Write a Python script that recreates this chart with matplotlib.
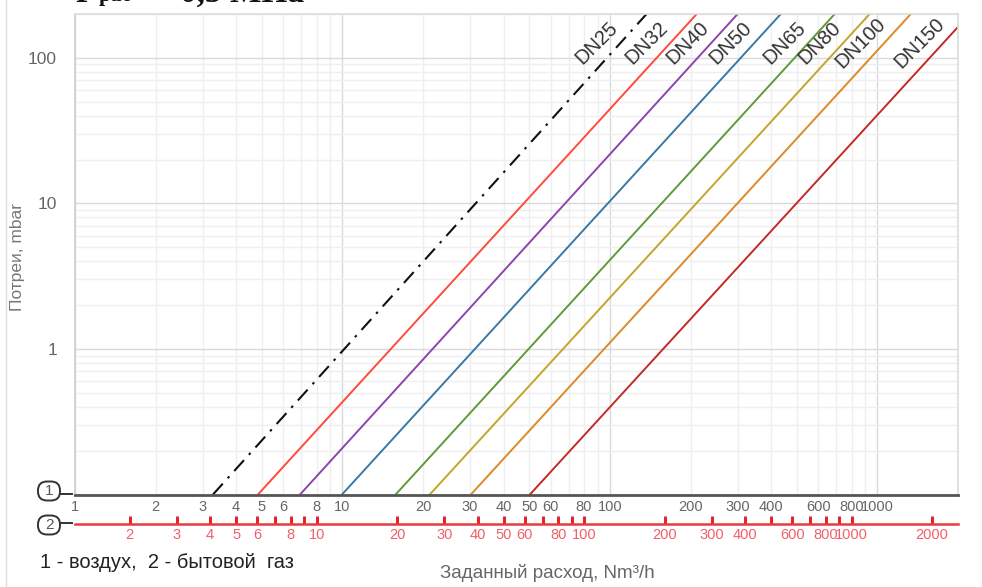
import numpy as np
import matplotlib
matplotlib.use("Agg")
import matplotlib.pyplot as plt
from matplotlib.ticker import FixedLocator, NullFormatter, FuncFormatter, NullLocator
from matplotlib.lines import Line2D
from matplotlib.patches import FancyBboxPatch
from matplotlib.transforms import IdentityTransform

# ---------------- data ----------------
dn_names = ["DN25", "DN32", "DN40", "DN50", "DN65", "DN80", "DN100", "DN150"]
q_start = [3.28, 4.83, 6.94, 9.96, 15.8, 21.2, 30.2, 50.2]      # Nm3/h (air) at start
dp_start = [0.1, 0.1, 0.1, 0.1, 0.1, 0.1, 0.1, 0.1]               # mbar
q_end = [137, 211, 300, 435, 692, 935, 1332, 2000]                # Nm3/h (air) at end
dp_end = [200, 200, 200, 200, 200, 200, 200, 163]                 # mbar
line_colors = ["#111111", "#ff4a3d", "#8e44ad", "#3a78a6",
               "#5f9a3a", "#c4a52a", "#dc8a28", "#c42a25"]

air_labels = [1, 2, 3, 4, 5, 6, 8, 10, 20, 30, 40, 50, 60, 80, 100,
              200, 300, 400, 600, 800, 1000]
gas_ticks = [2, 3, 4, 5, 6, 7, 8, 9, 10, 20, 30, 40, 50, 60, 70, 80, 90, 100,
             200, 300, 400, 500, 600, 700, 800, 900, 1000, 2000]
gas_labels = [2, 3, 4, 5, 6, 8, 10, 20, 30, 40, 50, 60, 80, 100,
              200, 300, 400, 600, 800, 1000, 2000]
gas_factor = 1.25          # gas flow = air flow * factor
y_ticks = [1, 10, 100]
x_lim = (1, 2000)
y_lim = (0.1, 200)
label_dp = 127             # pressure level where DN labels sit

# ---------------- figure ----------------
W, H = 982, 587
plt.rcParams['font.family'] = ['Liberation Sans', 'DejaVu Sans']
fig = plt.figure(figsize=(W / 100, H / 100), dpi=100)

def fx(px):
    return px / W

def fy(py):
    return 1 - py / H

L, R, T, B = 75, 958, 14, 494.5
ax = fig.add_axes([fx(L), fy(B), fx(R) - fx(L), fy(T) - fy(B)])
ax.set_xscale('log')
ax.set_yscale('log')
ax.set_xlim(*x_lim)
ax.set_ylim(*y_lim)

# grid
ax.xaxis.set_major_locator(FixedLocator([1, 10, 100, 1000]))
ax.xaxis.set_minor_locator(FixedLocator([m * d for d in (1, 10, 100, 1000) for m in range(2, 10)]))
ax.yaxis.set_major_locator(FixedLocator(y_ticks))
ax.yaxis.set_minor_locator(FixedLocator([m * d for d in (0.1, 1, 10, 100) for m in range(2, 10)]))
ax.xaxis.set_major_formatter(NullFormatter())
ax.xaxis.set_minor_formatter(NullFormatter())
ax.yaxis.set_minor_formatter(NullFormatter())
ax.yaxis.set_major_formatter(FuncFormatter(lambda v, p: f"{v:g}"))
ax.grid(which='minor', color='#efefef', lw=1.0)
ax.grid(which='major', color='#dadada', lw=1.0)
ax.set_axisbelow(True)
ax.tick_params(axis='both', which='both', length=0)
ax.tick_params(axis='y', which='major', labelsize=12.5, labelcolor='#666666', pad=13)
for s in ('left', 'top', 'right'):
    ax.spines[s].set_color('#dcdcdc')
    ax.spines[s].set_linewidth(1.2)
ax.spines['left'].set_color('#cfcfcf')
ax.spines['bottom'].set_color('#555555')
ax.spines['bottom'].set_linewidth(2.0)

# lines
for i, name in enumerate(dn_names):
    xs = [q_start[i], q_end[i]]
    ys = [dp_start[i], dp_end[i]]
    if i == 0:
        ax.plot(xs, ys, color=line_colors[i], lw=1.5, ls=(0, (7, 3.5, 1.2, 3.5)),
                solid_capstyle='butt', clip_on=True)
    else:
        ax.plot(xs, ys, color=line_colors[i], lw=1.4, clip_on=True)
    lx = np.log10(xs)
    ly = np.log10(ys)
    qx = 10 ** np.interp(np.log10(label_dp), ly, lx)
    ax.annotate(name, xy=(qx, label_dp), xytext=(-24, 0), textcoords='offset pixels',
                rotation=45, rotation_mode='anchor', ha='center', va='center',
                fontsize=14.5, color='#333333', annotation_clip=False)

# air scale (1)
ax_air = fig.add_axes([fx(L), fy(B), fx(R) - fx(L), 0.0001])
ax_air.set_xscale('log')
ax_air.set_xlim(*x_lim)
ax_air.set_facecolor('none')
for s in ax_air.spines.values():
    s.set_visible(False)
ax_air.yaxis.set_major_locator(NullLocator())
ax_air.xaxis.set_major_locator(FixedLocator(air_labels))
ax_air.xaxis.set_minor_locator(NullLocator())
ax_air.xaxis.set_major_formatter(FuncFormatter(lambda v, p: f"{v:g}"))
ax_air.tick_params(axis='x', length=0, pad=4, labelsize=10.5, labelcolor='#666666')

# gas scale (2)
GY = 524
ax_gas = fig.add_axes([fx(L), fy(GY), fx(R) - fx(L), 0.0001])
ax_gas.set_xscale('log')
ax_gas.set_xlim(x_lim[0] * gas_factor, x_lim[1] * gas_factor)
ax_gas.set_facecolor('none')
for s in ('left', 'right', 'top'):
    ax_gas.spines[s].set_visible(False)
ax_gas.spines['bottom'].set_color('#ea3a40')
ax_gas.spines['bottom'].set_linewidth(1.8)
ax_gas.yaxis.set_major_locator(NullLocator())
ax_gas.xaxis.set_major_locator(FixedLocator(gas_ticks))
ax_gas.xaxis.set_minor_locator(NullLocator())
ax_gas.xaxis.set_major_formatter(FuncFormatter(lambda v, p: f"{v:g}" if v in gas_labels else ""))
ax_gas.tick_params(axis='x', direction='in', length=6, width=2.2, color='#e3262c',
                   pad=3, labelsize=10.5, labelcolor='#f0606a')

# circled markers
for txt, cy, ay in (("1", 491, 494.5), ("2", 525, GY)):
    bw, bh = 22, 19
    fig.add_artist(FancyBboxPatch((38, H - cy - bh / 2), bw, bh,
                                  boxstyle='round,pad=0,rounding_size=9',
                                  fc='white', ec='#333333', lw=1.4,
                                  transform=IdentityTransform()))
    fig.text(fx(49), fy(cy), txt, ha='center', va='center', fontsize=11, color='#555555')
    fig.add_artist(Line2D([fx(60), fx(72)], [fy(ay - 1), fy(ay - 1)],
                          color='#333333', lw=1.4))

# left border line of the picture
fig.add_artist(Line2D([fx(5.5), fx(5.5)], [0, 1], color='#dddddd', lw=1.0))

# texts
fig.text(fx(18), fy(257), "Потреи, mbar", rotation=90, ha='center', va='center',
         fontsize=12.5, color='#777777')
fig.text(fx(40), fy(562), "1 - воздух,  2 - бытовой  газ", ha='left', va='center',
         fontsize=14.5, color='#222222')
fig.text(fx(440), fy(573), "Заданный расход, Nm³/h", ha='left', va='center',
         fontsize=13.5, color='#666666')

# clipped title at the top
tkw = dict(fontfamily=['Liberation Serif', 'DejaVu Serif'], fontweight='bold',
           color='#111111', va='baseline', ha='left')
fig.text(fx(75), fy(1.5), "P", fontsize=22, **tkw)
fig.text(fx(99), fy(1.0), "раб", fontsize=16, **tkw)
fig.text(fx(148), fy(1.5), "=", fontsize=22, **tkw)
fig.text(fx(180), fy(1.5), "0,5 МПа", fontsize=24, **tkw)

fig.savefig("out.png", dpi=100, facecolor='white')
